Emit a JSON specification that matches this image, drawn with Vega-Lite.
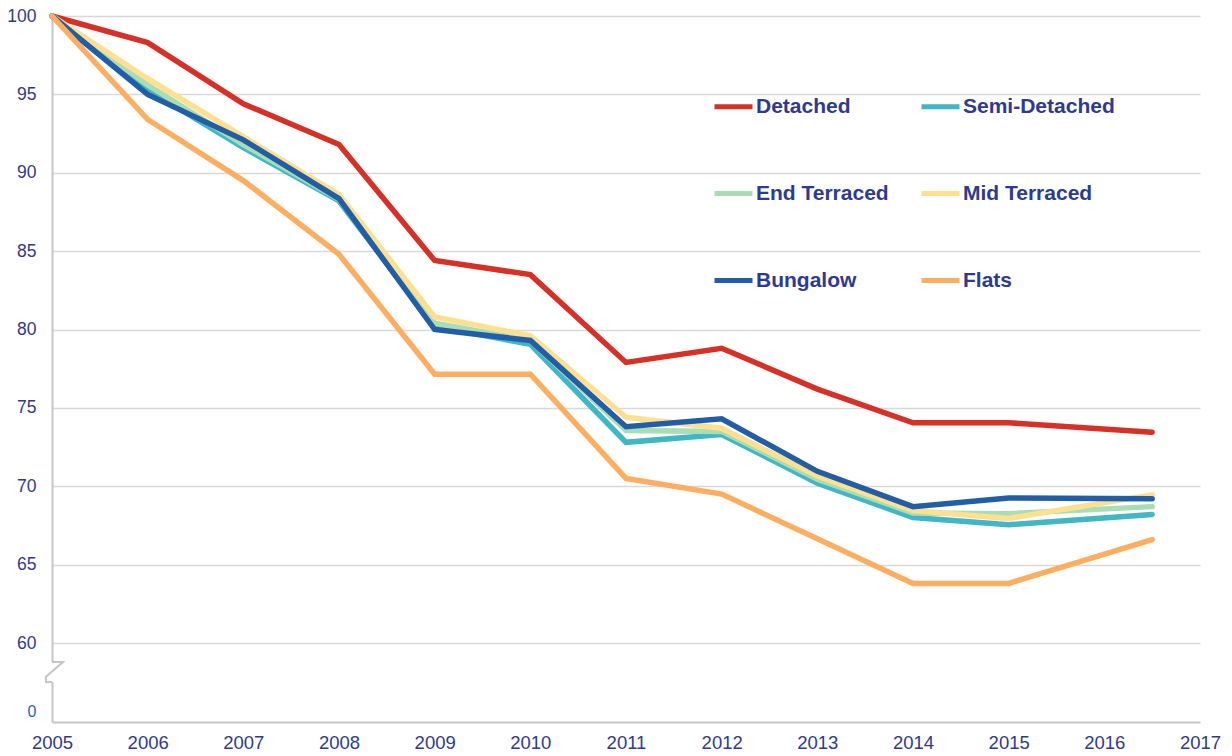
{
  "$schema": "https://vega.github.io/schema/vega-lite/v6.json",
  "width": 1148,
  "height": 706,
  "autosize": {"type": "none"},
  "padding": {"left": 52, "top": 16, "right": 32, "bottom": 34},
  "background": "white",
  "config": {
    "view": {"stroke": null},
    "font": "Liberation Sans"
  },
  "datasets": {
    "series": [
      {"year": 2005, "type": "Detached", "value": 100},
      {"year": 2006, "type": "Detached", "value": 98.3},
      {"year": 2007, "type": "Detached", "value": 94.4},
      {"year": 2008, "type": "Detached", "value": 91.8},
      {"year": 2009, "type": "Detached", "value": 84.4},
      {"year": 2010, "type": "Detached", "value": 83.5},
      {"year": 2011, "type": "Detached", "value": 77.9},
      {"year": 2012, "type": "Detached", "value": 78.8},
      {"year": 2013, "type": "Detached", "value": 76.2},
      {"year": 2014, "type": "Detached", "value": 74.05},
      {"year": 2015, "type": "Detached", "value": 74.05},
      {"year": 2016.5, "type": "Detached", "value": 73.45},
      {"year": 2005, "type": "Semi-Detached", "value": 100},
      {"year": 2006, "type": "Semi-Detached", "value": 95.3},
      {"year": 2007, "type": "Semi-Detached", "value": 91.6},
      {"year": 2008, "type": "Semi-Detached", "value": 88.2},
      {"year": 2009, "type": "Semi-Detached", "value": 80.2},
      {"year": 2010, "type": "Semi-Detached", "value": 79.05},
      {"year": 2011, "type": "Semi-Detached", "value": 72.8},
      {"year": 2012, "type": "Semi-Detached", "value": 73.3},
      {"year": 2013, "type": "Semi-Detached", "value": 70.2},
      {"year": 2014, "type": "Semi-Detached", "value": 68.0},
      {"year": 2015, "type": "Semi-Detached", "value": 67.55},
      {"year": 2016.5, "type": "Semi-Detached", "value": 68.2},
      {"year": 2005, "type": "End Terraced", "value": 100},
      {"year": 2006, "type": "End Terraced", "value": 95.6},
      {"year": 2007, "type": "End Terraced", "value": 91.8},
      {"year": 2008, "type": "End Terraced", "value": 88.3},
      {"year": 2009, "type": "End Terraced", "value": 80.4},
      {"year": 2010, "type": "End Terraced", "value": 79.3},
      {"year": 2011, "type": "End Terraced", "value": 73.55},
      {"year": 2012, "type": "End Terraced", "value": 73.5},
      {"year": 2013, "type": "End Terraced", "value": 70.45},
      {"year": 2014, "type": "End Terraced", "value": 68.3},
      {"year": 2015, "type": "End Terraced", "value": 68.25},
      {"year": 2016.5, "type": "End Terraced", "value": 68.7},
      {"year": 2005, "type": "Mid Terraced", "value": 100},
      {"year": 2006, "type": "Mid Terraced", "value": 96.0},
      {"year": 2007, "type": "Mid Terraced", "value": 92.3},
      {"year": 2008, "type": "Mid Terraced", "value": 88.6},
      {"year": 2009, "type": "Mid Terraced", "value": 80.8},
      {"year": 2010, "type": "Mid Terraced", "value": 79.6},
      {"year": 2011, "type": "Mid Terraced", "value": 74.4},
      {"year": 2012, "type": "Mid Terraced", "value": 73.7},
      {"year": 2013, "type": "Mid Terraced", "value": 70.65},
      {"year": 2014, "type": "Mid Terraced", "value": 68.45},
      {"year": 2015, "type": "Mid Terraced", "value": 67.95},
      {"year": 2016.5, "type": "Mid Terraced", "value": 69.45},
      {"year": 2005, "type": "Bungalow", "value": 100},
      {"year": 2006, "type": "Bungalow", "value": 95.0},
      {"year": 2007, "type": "Bungalow", "value": 92.1},
      {"year": 2008, "type": "Bungalow", "value": 88.35},
      {"year": 2009, "type": "Bungalow", "value": 80.0},
      {"year": 2010, "type": "Bungalow", "value": 79.3},
      {"year": 2011, "type": "Bungalow", "value": 73.8},
      {"year": 2012, "type": "Bungalow", "value": 74.3},
      {"year": 2013, "type": "Bungalow", "value": 70.95},
      {"year": 2014, "type": "Bungalow", "value": 68.7},
      {"year": 2015, "type": "Bungalow", "value": 69.25},
      {"year": 2016.5, "type": "Bungalow", "value": 69.2},
      {"year": 2005, "type": "Flats", "value": 100},
      {"year": 2006, "type": "Flats", "value": 93.4},
      {"year": 2007, "type": "Flats", "value": 89.5},
      {"year": 2008, "type": "Flats", "value": 84.8},
      {"year": 2009, "type": "Flats", "value": 77.15},
      {"year": 2010, "type": "Flats", "value": 77.15},
      {"year": 2011, "type": "Flats", "value": 70.5},
      {"year": 2012, "type": "Flats", "value": 69.5},
      {"year": 2013, "type": "Flats", "value": 66.65},
      {"year": 2014, "type": "Flats", "value": 63.8},
      {"year": 2015, "type": "Flats", "value": 63.8},
      {"year": 2016.5, "type": "Flats", "value": 66.6}
    ],
    "gap": [
      {"year": 2005, "value": 43.2, "value2": 25.6}
    ],
    "zig": [
      {"year": 2005, "value": 43.2, "o": 1},
      {"year": 2005.115, "value": 43.2, "o": 2},
      {"year": 2004.937, "value": 30.3, "o": 3},
      {"year": 2004.937, "value": 25.6, "o": 4},
      {"year": 2005, "value": 25.6, "o": 5}
    ]
  },
  "encoding": {
    "x": {
      "field": "year",
      "type": "quantitative",
      "title": null,
      "scale": {"domain": [2005, 2017], "nice": false, "zero": false},
      "axis": {
        "values": [2005, 2006, 2007, 2008, 2009, 2010, 2011, 2012, 2013, 2014, 2015, 2016, 2017],
        "format": "d",
        "grid": false,
        "ticks": false,
        "domainColor": "#C6C6C6",
        "domainWidth": 2,
        "labelFont": "Liberation Sans",
        "labelFontSize": 18.5,
        "labelColor": "#2E3A8F",
        "labelPadding": 11,
        "labelFlush": false,
        "labelOverlap": false
      }
    },
    "y": {
      "field": "value",
      "type": "quantitative",
      "title": null,
      "scale": {
        "type": "linear",
        "domain": [-1, 0, 60, 100],
        "range": [706, 695, 627, 0],
        "nice": false,
        "zero": false
      },
      "axis": {
        "values": [0, 60, 65, 70, 75, 80, 85, 90, 95, 100],
        "grid": true,
        "gridColor": "#D9D9D9",
        "gridWidth": 1.5,
        "gridOpacity": {"condition": {"test": "datum.value === 0", "value": 0}, "value": 1},
        "ticks": false,
        "domainColor": "#C6C6C6",
        "domainWidth": 2,
        "labelFont": "Liberation Sans",
        "labelFontSize": {"condition": {"test": "datum.value === 0", "value": 16}, "value": 17.5},
        "labelColor": {"condition": {"test": "datum.value === 0", "value": "#2468B0"}, "value": "#2E3A8F"},
        "labelPadding": 16,
        "labelOverlap": false
      }
    }
  },
  "layer": [
    {
      "data": {"name": "gap"},
      "mark": {"type": "rule", "color": "white", "strokeWidth": 6},
      "encoding": {"y2": {"field": "value2"}}
    },
    {
      "data": {"name": "zig"},
      "mark": {"type": "line", "color": "#C6C6C6", "strokeWidth": 2},
      "encoding": {"order": {"field": "o", "type": "quantitative"}}
    },
    {
      "data": {"name": "series"},
      "mark": {"type": "line", "strokeWidth": 5.5, "strokeCap": "round"},
      "encoding": {
        "color": {
          "field": "type",
          "type": "nominal",
          "scale": {
            "domain": ["Detached", "Semi-Detached", "End Terraced", "Mid Terraced", "Bungalow", "Flats"],
            "range": ["#D73027", "#41B6C4", "#A8DDB5", "#FEE090", "#225EA8", "#FDAE61"]
          },
          "legend": {
            "title": null,
            "orient": "none",
            "legendX": 660,
            "legendY": 69,
            "columns": 2,
            "direction": "horizontal",
            "symbolType": "stroke",
            "symbolSize": 1444,
            "symbolStrokeWidth": 5,
            "labelFont": "Liberation Sans",
            "labelFontWeight": "bold",
            "labelFontSize": 21,
            "labelColor": "#2E3A8F",
            "labelOffset": 1,
            "labelLimit": 400,
            "columnPadding": 22,
            "rowPadding": 55
          }
        }
      }
    }
  ]
}
